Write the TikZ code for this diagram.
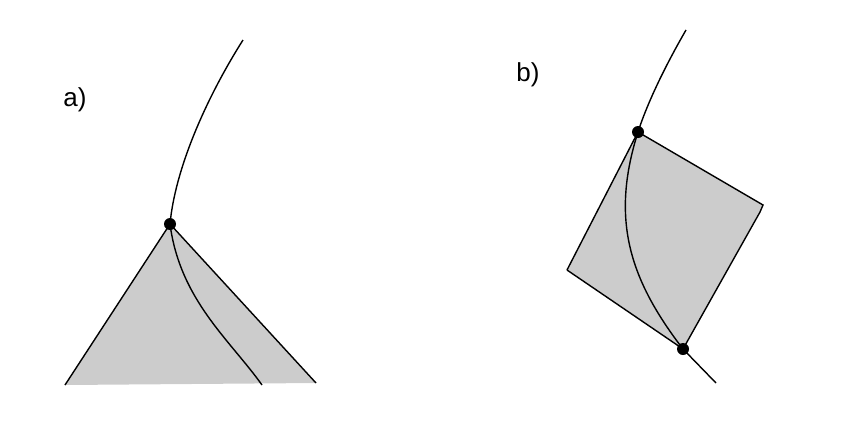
\documentclass[tikz,border=0pt]{standalone}
\usepackage{fontspec}
\setmainfont{Liberation Sans}
\tikzset{
    pin/.style={circle,fill=black,inner sep=0pt,minimum size=12pt},
    region/.style={fill=black!20},
    panel/.style={font=\fontsize{26}{30}\selectfont}
}
\begin{document}
\begin{tikzpicture}[x=1pt,y=-1pt,line width=1.4pt]
    \useasboundingbox (0,0) rectangle (864,440);

    % Panel a.
    \node[panel] (la) at (75,100) {a)};
    \coordinate (aleft) at (65,385);
    \coordinate (aright) at (316,383);
    \coordinate (atop) at (243,40);
    \coordinate (aend) at (262,385);
    \fill[region] (170,224) -- (aleft) -- (aright) -- cycle;
    \draw (aleft) -- (170,224) -- (aright);
    \draw (atop) .. controls (205,100) and (175,170) .. (170,224)
        .. controls (180,300) and (230,340) .. (aend);
    \node[pin] (pa) at (170,224) {};

    % Panel b.
    \node[panel] (lb) at (528,75) {b)};
    \coordinate (bright) at (763,205);
    \coordinate (bleft) at (567,270);
    \coordinate (btop) at (686,30);
    \coordinate (bend) at (716,383);
    \fill[region] (638,132) -- (bright) -- (683,349) -- (bleft) -- cycle;
    \draw (bleft) -- (638,132) -- (bright) -- (760,212) -- (683,349) -- (bleft);
    \node[pin] (pb) at (638,132) {};
    \node[pin] (qb) at (683,349) {};
    \draw (btop) .. controls (660,75) and (645,110) .. (pb.center)
        .. controls (610,220) and (630,280) .. (qb.center) -- (bend);
\end{tikzpicture}
\end{document}
